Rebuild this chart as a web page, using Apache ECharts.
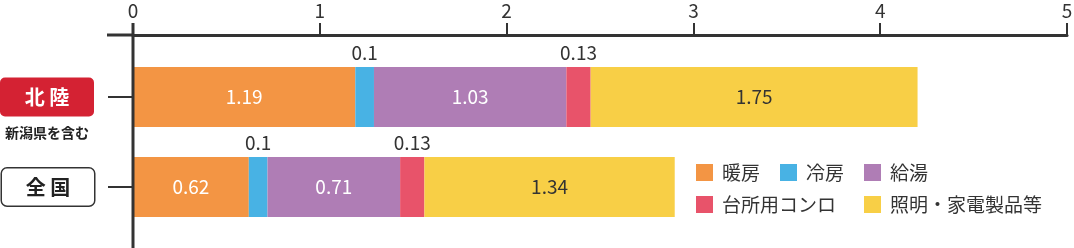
<!DOCTYPE html>
<html><head><meta charset="utf-8">
<script src="https://cdn.jsdelivr.net/npm/echarts@6/dist/echarts.min.js"></script>
<style>html,body{margin:0;padding:0;background:#fff}#c{width:1074px;height:248px}</style>
</head><body><div id="c"></div>
<script>
const categories = ['北陸', '全国'];
const seriesNames = ['暖房', '冷房', '給湯', '台所用コンロ', '照明・家電製品等'];
const heating = [1.19, 0.62];
const cooling = [0.1, 0.1];
const hotWater = [1.03, 0.71];
const cooking = [0.13, 0.13];
const lighting = [1.75, 1.34];
const xTicks = [0, 1, 2, 3, 4, 5];

const values = [heating, cooling, hotWater, cooking, lighting];
const colors = ['#F39544', '#48B2E4', '#AF7DB5', '#E8536A', '#F8CF46'];
const labelPos = ['inside', 'top', 'inside', 'top', 'inside'];
const labelColor = ['#fff', '#333', '#fff', '#333', '#333'];
const FONT = '"Noto Sans CJK JP", "Noto Sans", sans-serif';

const chart = echarts.init(document.getElementById('c'), null, {renderer: 'canvas'});
const GL = 133, GT = 52;
chart.setOption({
  animation: false,
  textStyle: {fontFamily: FONT},
  grid: {left: GL, right: 7, top: GT, bottom: 16, containLabel: false, outerBoundsMode: 'none'},
  xAxis: {
    type: 'value', position: 'top', offset: 17, min: xTicks[0], max: xTicks[xTicks.length - 1], interval: 1,
    splitLine: {show: false},
    axisLine: {show: true, lineStyle: {color: '#333', width: 3}},
    axisTick: {show: true, length: 12, lineStyle: {color: '#333', width: 2}},
    axisLabel: {fontSize: 19, color: '#333', margin: 15, fontFamily: FONT}
  },
  yAxis: {
    type: 'category', inverse: true, data: categories,
    axisLine: {show: false},
    axisTick: {show: true, alignWithLabel: true, length: 25, lineStyle: {color: '#333', width: 2}},
    axisLabel: {
      margin: 39,
      formatter: v => v === '北陸' ? '{blank| }\n{red|北 陸}\n{sub|新潟県を含む}' : '{white|全 国}',
      rich: {
        blank: {fontSize: 14, lineHeight: 32, align: 'center'},
        red: {backgroundColor: '#D42233', color: '#fff', fontWeight: 'bold', fontSize: 20, width: 94, height: 39, lineHeight: 39, align: 'center', borderRadius: 5, fontFamily: FONT},
        sub: {fontSize: 14, fontWeight: 'bold', color: '#222', lineHeight: 32, align: 'center', fontFamily: FONT},
        white: {backgroundColor: '#fff', borderColor: '#333', borderWidth: 1.5, color: '#222', fontWeight: 'bold', fontSize: 20, width: 92, height: 37, lineHeight: 37, align: 'center', borderRadius: 5, fontFamily: FONT}
      }
    }
  },
  legend: [
    {left: 696, top: 163, orient: 'vertical', data: [seriesNames[0], seriesNames[3]]},
    {left: 780, top: 163, orient: 'vertical', data: [seriesNames[1]]},
    {left: 864, top: 163, orient: 'vertical', data: [seriesNames[2], seriesNames[4]]}
  ].map(l => Object.assign(l, {
    padding: 0, itemWidth: 17, itemHeight: 17, itemGap: 13, icon: 'rect',
    textStyle: {fontSize: 19, color: '#333', fontFamily: FONT, padding: [0, 0, 0, 4]}
  })),
  graphic: [
    {type: 'line', shape: {x1: 107, y1: 35, x2: GL, y2: 35}, style: {stroke: '#333', lineWidth: 3}},
    {type: 'line', shape: {x1: GL, y1: 23, x2: GL, y2: 248}, style: {stroke: '#333', lineWidth: 3}, z: 10}
  ],
  series: seriesNames.map((name, i) => ({
    name, type: 'bar', stack: 'total', barWidth: 60, data: values[i],
    itemStyle: {color: colors[i]},
    label: {show: true, position: labelPos[i], distance: 5, color: labelColor[i], fontSize: 19, fontFamily: FONT}
  }))
});
</script></body></html>
